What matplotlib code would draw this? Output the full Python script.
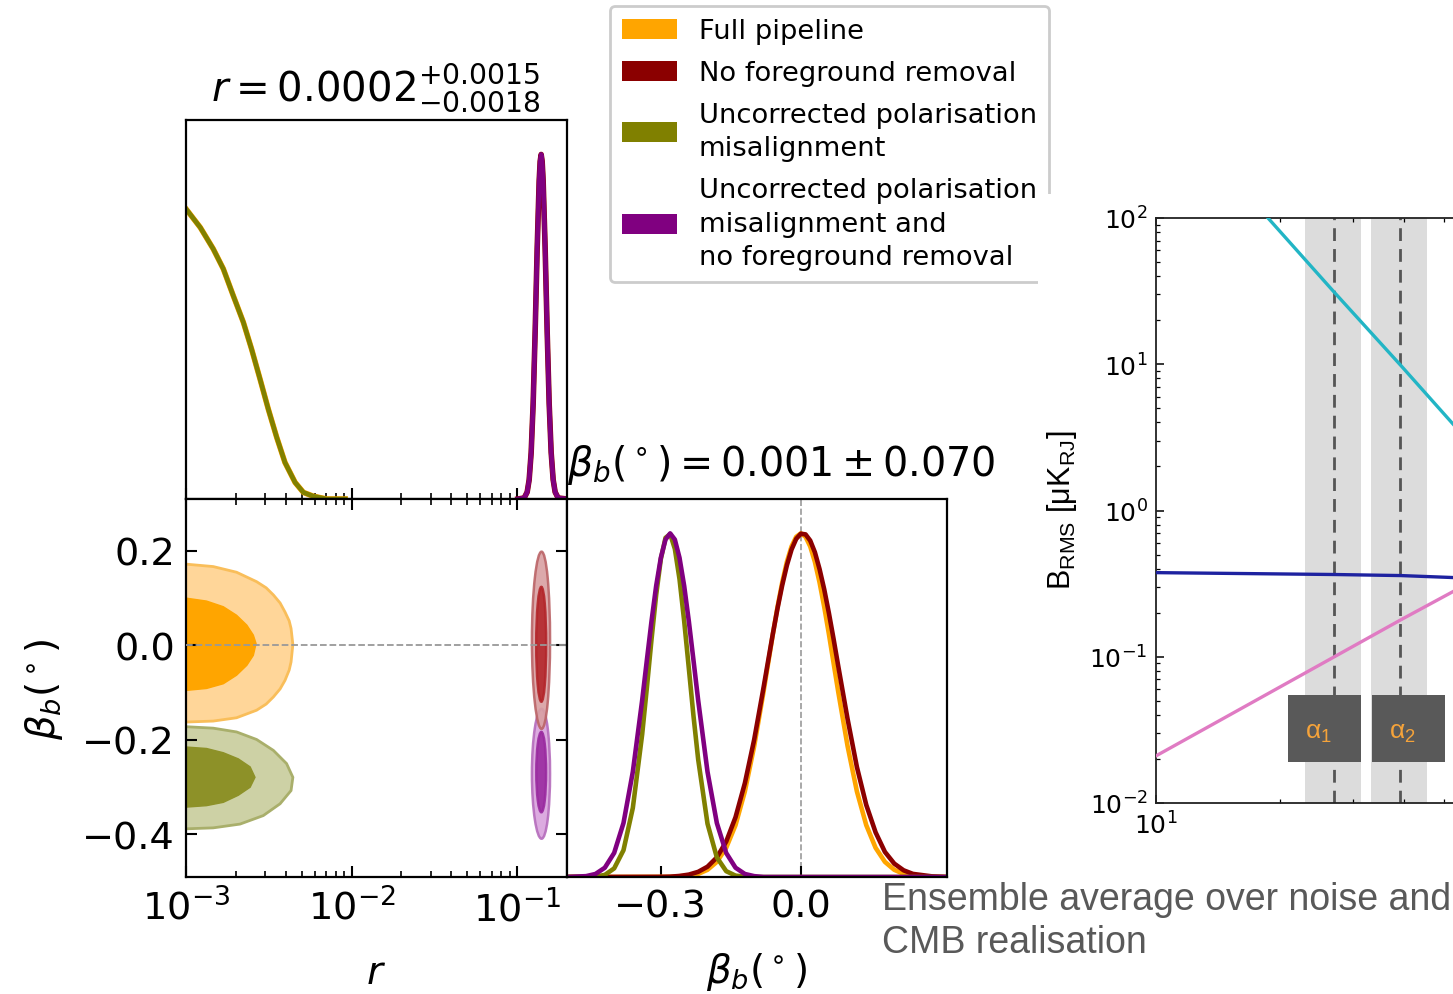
import numpy as np
import matplotlib
matplotlib.use('Agg')
import matplotlib.pyplot as plt
from matplotlib.patches import Patch, Ellipse, Rectangle

# ---------------- data ----------------
# 1D posterior of r, low-r solutions (full pipeline / misalignment)
r_low = [1.0e-3, 1.22e-3, 1.46e-3, 1.68e-3, 1.93e-3, 2.22e-3, 2.49e-3, 2.80e-3,
         3.14e-3, 3.53e-3, 3.96e-3, 4.56e-3, 5.12e-3, 5.88e-3, 7.08e-3, 9.14e-3]
pdf_r_low = [0.842, 0.788, 0.726, 0.668, 0.590, 0.513, 0.435, 0.348,
             0.261, 0.179, 0.106, 0.048, 0.019, 0.008, 0.0, 0.0]
# 1D posterior of r, high-r solutions (no foreground removal)
r_high = [0.101, 0.11025, 0.11494, 0.11818, 0.12151, 0.12494, 0.12846, 0.13208,
          0.13580, 0.13770, 0.13963, 0.14158, 0.14357, 0.14762, 0.15178, 0.15606,
          0.16046, 0.16498, 0.16963, 0.17681, 0.2]
pdf_r_high = [0.0, 0.003, 0.02, 0.056, 0.135, 0.278, 0.487, 0.726,
              0.923, 0.98, 1.0, 0.98, 0.923, 0.726, 0.487, 0.278,
              0.135, 0.056, 0.02, 0.003, 0.0]

# 1D posteriors of beta_b
beta_full = [-0.50, -0.28, -0.24, -0.22, -0.20, -0.18, -0.16, -0.14, -0.12, -0.10,
             -0.08, -0.07, -0.06, -0.05, -0.04, -0.03, -0.02, -0.01, 0.00, 0.01,
             0.02, 0.03, 0.04, 0.05, 0.06, 0.07, 0.08, 0.10, 0.12, 0.14,
             0.16, 0.18, 0.20, 0.22, 0.24, 0.28, 0.31]
pdf_b_full = [0.0, 0.0005, 0.004, 0.009, 0.021, 0.044, 0.085, 0.151, 0.249, 0.381,
              0.539, 0.623, 0.707, 0.786, 0.857, 0.917, 0.962, 0.990, 1.0, 0.990,
              0.962, 0.917, 0.857, 0.786, 0.707, 0.623, 0.539, 0.381, 0.249, 0.151,
              0.085, 0.044, 0.021, 0.009, 0.004, 0.0005, 0.0]
beta_nofg = [-0.50, -0.30, -0.28, -0.26, -0.24, -0.22, -0.20, -0.18, -0.16, -0.14,
             -0.12, -0.10, -0.08, -0.07, -0.06, -0.05, -0.04, -0.03, -0.02, -0.01,
             0.00, 0.01, 0.02, 0.03, 0.04, 0.05, 0.06, 0.07, 0.08, 0.10,
             0.12, 0.14, 0.16, 0.18, 0.20, 0.22, 0.24, 0.28, 0.31]
pdf_b_nofg = [0.0, 0.0004, 0.001, 0.003, 0.007, 0.015, 0.030, 0.057, 0.103, 0.174,
              0.273, 0.40, 0.551, 0.630, 0.708, 0.782, 0.849, 0.907, 0.953, 0.984,
              0.999, 0.997, 0.979, 0.945, 0.896, 0.837, 0.768, 0.693, 0.614, 0.46,
              0.32, 0.21, 0.13, 0.073, 0.039, 0.0195, 0.009, 0.002, 0.0]
beta_mis = [-0.50, -0.44, -0.42, -0.40, -0.38, -0.36, -0.34, -0.33, -0.32, -0.31,
            -0.30, -0.29, -0.28, -0.27, -0.26, -0.25, -0.24, -0.23, -0.22, -0.20,
            -0.18, -0.16, -0.14, -0.12, -0.10, 0.31]
pdf_b_mis = [0.0, 0.0013, 0.006, 0.025, 0.078, 0.201, 0.415, 0.550, 0.691, 0.821,
             0.925, 0.987, 0.998, 0.955, 0.867, 0.745, 0.607, 0.468, 0.342, 0.155,
             0.057, 0.017, 0.004, 0.001, 0.0, 0.0]
beta_misnofg = [-0.50, -0.46, -0.44, -0.42, -0.40, -0.38, -0.36, -0.34, -0.33, -0.32,
                -0.31, -0.30, -0.29, -0.28, -0.27, -0.26, -0.25, -0.24, -0.23, -0.22,
                -0.20, -0.18, -0.16, -0.14, -0.12, -0.10, -0.08, 0.31]
pdf_b_misnofg = [0.0, 0.0025, 0.0088, 0.027, 0.070, 0.157, 0.306, 0.514, 0.630, 0.744,
                 0.847, 0.929, 0.982, 1.0, 0.982, 0.929, 0.847, 0.744, 0.630, 0.514,
                 0.306, 0.157, 0.070, 0.027, 0.0088, 0.0025, 0.0, 0.0]

# 2D contours at low r (boundary points, r and beta)
full_out_r = [5e-4, 1.01e-3, 1.46e-3, 2.02e-3, 2.67e-3, 3.05e-3, 3.37e-3, 3.70e-3, 3.96e-3,
              4.20e-3, 4.31e-3, 4.42e-3, 4.31e-3, 4.20e-3, 3.96e-3, 3.70e-3, 3.37e-3,
              3.05e-3, 2.67e-3, 2.02e-3, 1.46e-3, 1.01e-3, 5e-4]
full_out_b = [0.172, 0.172, 0.167, 0.155, 0.135, 0.122, 0.107, 0.090, 0.071,
              0.052, 0.036, 0.002, -0.035, -0.052, -0.074, -0.092, -0.109,
              -0.124, -0.137, -0.153, -0.160, -0.162, -0.162]
full_in_r = [5e-4, 1.01e-3, 1.33e-3, 1.68e-3, 2.02e-3, 2.33e-3, 2.55e-3, 2.65e-3,
             2.55e-3, 2.33e-3, 2.02e-3, 1.68e-3, 1.33e-3, 1.01e-3, 5e-4]
full_in_b = [0.100, 0.100, 0.094, 0.082, 0.064, 0.043, 0.022, 0.004,
             -0.021, -0.042, -0.063, -0.081, -0.091, -0.095, -0.095]
mis_out_r = [5e-4, 1.01e-3, 1.46e-3, 2.02e-3, 2.67e-3, 3.37e-3, 4.05e-3, 4.42e-3,
             4.31e-3, 3.70e-3, 2.93e-3, 2.12e-3, 1.46e-3, 1.01e-3, 5e-4]
mis_out_b = [-0.172, -0.172, -0.175, -0.183, -0.199, -0.222, -0.250, -0.279,
             -0.307, -0.335, -0.360, -0.378, -0.386, -0.388, -0.388]
mis_in_r = [5e-4, 1.01e-3, 1.33e-3, 1.68e-3, 2.07e-3, 2.44e-3, 2.61e-3,
            2.44e-3, 2.07e-3, 1.68e-3, 1.33e-3, 1.01e-3, 5e-4]
mis_in_b = [-0.215, -0.215, -0.218, -0.227, -0.240, -0.257, -0.279,
            -0.300, -0.317, -0.332, -0.339, -0.342, -0.342]

# 2D contours at high r (centre r, centre beta, width in r, height in beta)
nofg_out = [0.1404, 0.011, 0.0352, 0.375]
nofg_in = [0.1400, 0.0025, 0.0193, 0.243]
misnofg_out = [0.1404, -0.2715, 0.0352, 0.275]
misnofg_in = [0.1400, -0.268, 0.0190, 0.170]

# right panel: B_RMS against frequency
freq_sync = [18.7, 27.1, 39.3, 52.6]
brms_sync = [100.0, 31.0, 9.8, 3.9]
freq_flat = [10.0, 27.1, 39.3, 52.6]
brms_flat = [0.376, 0.365, 0.359, 0.348]
freq_dust = [10.0, 27.1, 39.3, 52.6]
brms_dust = [0.021, 0.10, 0.179, 0.279]
band_centre = [27, 39]
band_lo = [23.0, 33.2]
band_hi = [31.4, 45.4]

labels = ['Full pipeline', 'No foreground removal',
          'Uncorrected polarisation\nmisalignment',
          'Uncorrected polarisation\nmisalignment and\nno foreground removal']
colors = ['#FFA500', '#8B0000', '#808000', '#800080']

# ---------------- figure ----------------
W, H = 1453, 995
fig = plt.figure(figsize=(W / 100, H / 100), dpi=100)


def px_box(x0, y0, x1, y1):
    return [x0 / W, 1 - y1 / H, (x1 - x0) / W, (y1 - y0) / H]


ax_r = fig.add_axes(px_box(186, 121, 567, 500))
ax_2d = fig.add_axes(px_box(186, 500, 567, 878))
ax_b = fig.add_axes(px_box(567, 500, 947, 878))
ax_s = fig.add_axes(px_box(1156, 219, 1980, 804))

for ax in (ax_r, ax_2d, ax_b):
    for sp in ax.spines.values():
        sp.set_linewidth(1.6)
    ax.tick_params(which='major', direction='in', length=8, width=1.5, labelsize=27.5, pad=8)
    ax.tick_params(which='minor', direction='in', length=4.5, width=1.2)

# top: 1D r
ax_r.plot(r_low, pdf_r_low, color=colors[0], lw=4.0)
ax_r.plot(r_low, pdf_r_low, color=colors[2], lw=3.4)
ax_r.plot(r_high, pdf_r_high, color=colors[1], lw=4.0)
ax_r.plot(r_high, pdf_r_high, color=colors[3], lw=3.4)
ax_r.set_xscale('log')
ax_r.set_xlim(1e-3, 0.2)
ax_r.set_ylim(0, 1.1)
ax_r.set_yticks([])
ax_r.tick_params(which='both', labelbottom=False, top=False, right=False, left=False)
fig.text(376 / W, 1 - 88 / H, r'$r = 0.0002^{+0.0015}_{-0.0018}$', fontsize=29,
         ha='center', va='center')

# 2D r - beta
ax_2d.fill(full_out_r, full_out_b, facecolor='#FFD699', edgecolor='#F9BE5A', lw=2)
ax_2d.fill(full_in_r, full_in_b, facecolor='#FFA500', edgecolor='#FFA500', lw=1)
ax_2d.fill(mis_out_r, mis_out_b, facecolor='#CDD1A5', edgecolor='#A9AF6B', lw=2)
ax_2d.fill(mis_in_r, mis_in_b, facecolor='#8D9128', edgecolor='#8D9128', lw=1)
for c, fc, ec in [(misnofg_out, '#D9A2DD', '#B56CBC'), (misnofg_in, '#9A2BA0', '#9A2BA0'),
                  (nofg_out, '#D9A0A2', '#BB6467'), (nofg_in, '#B3262B', '#B3262B')]:
    ax_2d.add_patch(Ellipse((c[0], c[1]), c[2], c[3], facecolor=fc, edgecolor=ec,
                            lw=1.8, alpha=0.9))
ax_2d.axhline(0, color='#999999', ls='--', lw=1.3, zorder=5)
ax_2d.set_xscale('log')
ax_2d.set_xlim(1e-3, 0.2)
ax_2d.set_ylim(-0.49, 0.31)
ax_2d.set_yticks([-0.4, -0.2, 0.0, 0.2])
ax_2d.tick_params(which='both', top=True, right=True)
ax_2d.set_xlabel(r'$r$', fontsize=28, labelpad=18)
ax_2d.set_ylabel(r'$\beta_b(^\circ)$', fontsize=28, labelpad=12)

# 1D beta
ax_b.axvline(0, color='#999999', ls='--', lw=1.2, zorder=0)
ax_b.plot(beta_full, pdf_b_full, color=colors[0], lw=3.3)
ax_b.plot(beta_nofg, pdf_b_nofg, color=colors[1], lw=3.3)
ax_b.plot(beta_mis, pdf_b_mis, color=colors[2], lw=3.3)
ax_b.plot(beta_misnofg, pdf_b_misnofg, color=colors[3], lw=3.3)
ax_b.set_xlim(-0.501, 0.313)
ax_b.set_ylim(0, 1.1)
ax_b.set_yticks([])
ax_b.set_xticks([-0.3, 0.0])
ax_b.tick_params(which='both', top=False, left=False, right=False)
ax_b.set_xlabel(r'$\beta_b(^\circ)$', fontsize=28, labelpad=19)
fig.text(567 / W, 1 - 465 / H, r'$\beta_b(^\circ) = 0.001 \pm 0.070$', fontsize=28.5,
         ha='left', va='center')

# legend
handles = [Patch(facecolor=c, edgecolor='none') for c in colors]
leg = fig.legend(handles, labels, loc='upper left', bbox_to_anchor=(610 / W, 1 - 7 / H),
                 fontsize=19.7, frameon=True, fancybox=True, edgecolor='#cccccc',
                 framealpha=1, handlelength=2.0, handleheight=0.75, handletextpad=0.8,
                 labelspacing=0.58, borderpad=0.45, borderaxespad=0)
leg.get_frame().set_linewidth(2)
for t in leg.get_texts():
    t.set_linespacing(1.37)

# white page of the right-hand figure covering the legend corner
fig.add_artist(Rectangle((1038 / W, 1 - 870 / H), 1.0, (870 - 195) / H,
                         transform=fig.transFigure, facecolor='white',
                         edgecolor='none', zorder=6))

# right panel
ax_s.set_zorder(7)
for lo, hi in zip(band_lo, band_hi):
    ax_s.axvspan(lo, hi, color='#DCDCDC', lw=0, zorder=0)
for c in band_centre:
    ax_s.axvline(c, color='#555555', ls=(0, (4.6, 2.9)), lw=2, zorder=1)
ax_s.plot(freq_sync, brms_sync, color='#22B5C5', lw=2.4, zorder=3)
ax_s.plot(freq_flat, brms_flat, color='#1E22A0', lw=2.4, zorder=3)
ax_s.plot(freq_dust, brms_dust, color='#E07BC3', lw=2.4, zorder=3)
ax_s.set_xscale('log')
ax_s.set_yscale('log')
ax_s.set_xlim(10, 1000)
ax_s.set_ylim(1e-2, 1e2)
ax_s.set_xticks([10])
for sp in ax_s.spines.values():
    sp.set_linewidth(1.3)
    sp.set_color('#222222')
ax_s.tick_params(which='major', direction='in', length=6, width=1.1, labelsize=18,
                 top=True, right=True, pad=6)
ax_s.tick_params(which='minor', direction='in', length=3, width=0.9, top=True, right=True)
fig.text(1062 / W, 1 - 510 / H, r'B$_{\mathregular{RMS}}$ [μK$_{\mathregular{RJ}}$]',
         rotation=90, fontsize=22, family='Liberation Sans', ha='center', va='center',
         zorder=8)

# alpha boxes
for x0, x1, lab in [(1288, 1361, r'α$_{\mathregular{1}}$'), (1372, 1445, r'α$_{\mathregular{2}}$')]:
    fig.add_artist(Rectangle((x0 / W, 1 - 763 / H), (x1 - x0) / W, 67 / H,
                             transform=fig.transFigure, facecolor='#595959',
                             edgecolor='none', zorder=9))
    fig.text((x0 + 30) / W, 1 - 733 / H, lab, color='#F5A33A', fontsize=19,
             family='Liberation Sans', ha='center', va='center', zorder=10)

fig.text(882 / W, 1 - 882 / H, 'Ensemble average over noise and\nCMB realisation',
         fontsize=27, color='#595959', family='Liberation Sans', ha='left', va='top',
         linespacing=1.25, zorder=8)

fig.savefig('out.png', dpi=100)
